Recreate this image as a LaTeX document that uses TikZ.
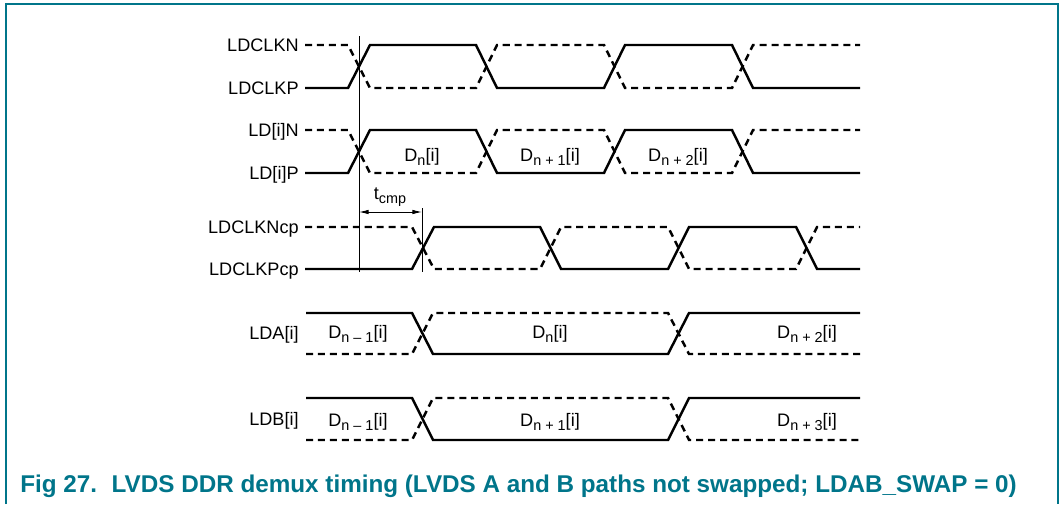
\documentclass[tikz,border=0pt]{standalone}
\usepackage{fontspec}
\setmainfont{Liberation Sans}
\usetikzlibrary{arrows.meta}
\definecolor{nxpteal}{RGB}{0,117,138}
\newcommand{\sbs}[1]{\raisebox{-0.45ex}{\fontsize{8.2}{9}\selectfont #1}}
\begin{document}
\begin{tikzpicture}[x=0.02cm,y=-0.02cm]
\tikzstyle{sig}=[anchor=base east,inner sep=0pt,yshift=-3.7pt,font=\fontsize{10.3}{12}\selectfont]
\tikzstyle{dat}=[anchor=base,inner sep=0pt,font=\fontsize{10.3}{12}\selectfont]
\tikzstyle{wave}=[line width=1.4pt]
\tikzstyle{wavecomp}=[line width=1.4pt,dash pattern=on 4pt off 2.8pt]
\tikzstyle{guide}=[line width=0.5pt]
\tikzstyle{tip}=[{Latex[length=5.5pt,width=2.6pt]}-{Latex[length=5.5pt,width=2.6pt]}]
\useasboundingbox (0,0) rectangle (1061,504);
\draw[nxpteal,line width=0.9pt] (6,504) -- (6,4) -- (1058,4) -- (1058,504);
\node[sig] at (299,45) (clkn) {LDCLKN};
\node[sig] at (299,88) (clkp) {LDCLKP};
\node[sig] at (299,130) (ldn) {LD[i]N};
\node[sig] at (299,173) (ldp) {LD[i]P};
\node[sig] at (299,227) (clkncp) {LDCLKNcp};
\node[sig] at (299,269) (clkpcp) {LDCLKPcp};
\node[sig] at (299,333) (lda) {LDA[i]};
\node[sig] at (299,419) (ldb) {LDB[i]};
\foreach \hy/\ly/\s in {45/88/0,130/173/0,227/269/64} {
  \draw[wave] (305,\ly) -- (348+\s,\ly) -- (370+\s,\hy) -- (476+\s,\hy) -- (497+\s,\ly) -- (604+\s,\ly) -- (625+\s,\hy) -- (732+\s,\hy) -- (753+\s,\ly) -- (860,\ly);
  \draw[wavecomp] (305,\hy) -- (348+\s,\hy) -- (370+\s,\ly) -- (476+\s,\ly) -- (497+\s,\hy) -- (604+\s,\hy) -- (625+\s,\ly) -- (732+\s,\ly) -- (753+\s,\hy) -- (860,\hy);
}
\foreach \hy/\ly in {313/354,398/440} {
  \draw[wave] (306,\hy) -- (412,\hy) -- (433,\ly) -- (668,\ly) -- (689,\hy) -- (860,\hy);
  \draw[wavecomp] (306,\ly) -- (412,\ly) -- (433,\hy) -- (668,\hy) -- (689,\ly) -- (860,\ly);
}
\node[dat] at (422,161) (dn0) {D\sbs{n}[i]};
\node[dat] at (550,161) (dn1) {D\sbs{n + 1}[i]};
\node[dat] at (678,161) (dn2) {D\sbs{n + 2}[i]};
\node[dat] at (358,338) (la0) {D\sbs{n – 1}[i]};
\node[dat] at (550,338) (la1) {D\sbs{n}[i]};
\node[dat] at (807,338) (la2) {D\sbs{n + 2}[i]};
\node[dat] at (358,426) (lb0) {D\sbs{n – 1}[i]};
\node[dat] at (550,426) (lb1) {D\sbs{n + 1}[i]};
\node[dat] at (807,426) (lb2) {D\sbs{n + 3}[i]};
\coordinate (g1top) at (359,36);
\coordinate (g1bot) at (359,272);
\coordinate (g2top) at (422,208);
\coordinate (g2bot) at (422,272);
\coordinate (t1) at (359,212);
\coordinate (t2) at (422,212);
\draw[guide] (g1top) -- (g1bot);
\draw[guide] (g2top) -- (g2bot);
\draw[guide,tip] (t1) -- (t2);
\node[dat] at (390,199) (tcmp) {t\sbs{cmp}};
\node[anchor=base west,inner sep=0pt,text=nxpteal,font=\fontsize{13.8}{16}\selectfont\bfseries] at (20,492) (cap) {Fig 27.\hspace{0.6em}LVDS DDR demux timing (LVDS A and B paths not swapped; LDAB\_SWAP = 0)};
\end{tikzpicture}
\end{document}
